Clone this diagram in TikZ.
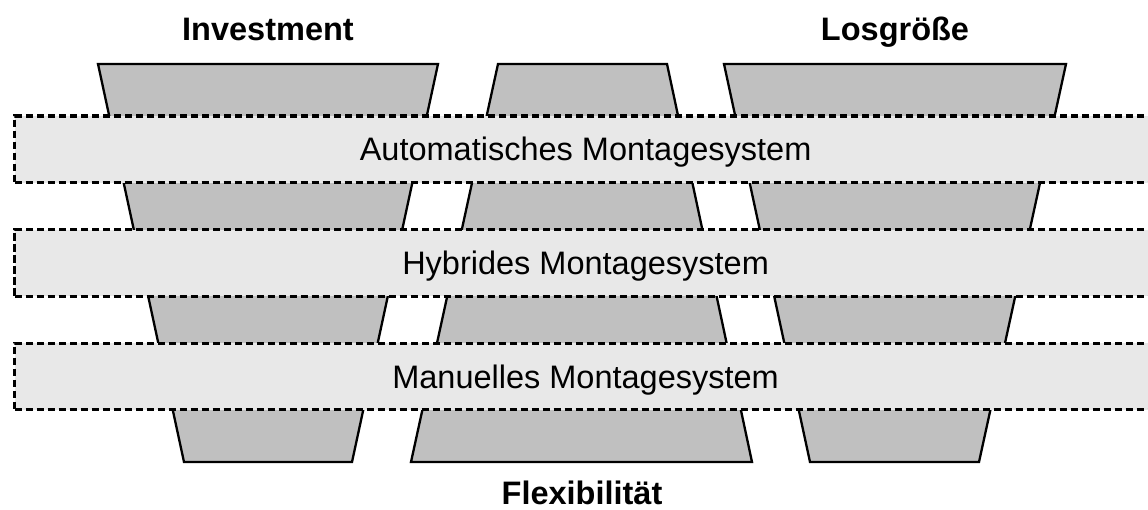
\documentclass[tikz,border=0pt]{standalone}
\usepackage{fontspec}
\setmainfont{Liberation Sans}
\definecolor{bandfill}{HTML}{E8E8E8}
\definecolor{funnelfill}{HTML}{C0C0C0}
\tikzset{
  funnel/.style={draw=black, fill=funnelfill, line width=2.3pt, line join=miter},
  band/.style={draw=black, fill=bandfill, line width=3.2pt,
    dash pattern=on 7.5pt off 3.5pt, rectangle, anchor=west,
    minimum width=1142pt, minimum height=66.5pt, inner sep=0pt,
    text height=23.3pt, text depth=0pt,
    font=\fontsize{32.5}{39}\selectfont},
  heading/.style={anchor=base, inner sep=0pt,
    font=\fontsize{32.5}{39}\selectfont\bfseries}
}
\begin{document}
\begin{tikzpicture}[x=1pt, y=-1pt]
  \clip (0,0) rectangle (1148,510);
  \fill[white] (0,0) rectangle (1148,510);

  % three funnels behind the bands
  \draw[funnel] (98,64) -- (438,64) -- (352,462) -- (184,462) -- cycle;
  \draw[funnel] (498,64) -- (667,64) -- (752,462) -- (411,462) -- cycle;
  \draw[funnel] (724,64) -- (1066,64) -- (979,462) -- (810,462) -- cycle;

  % system bands
  \node[band] (auto) at (13,149.3) {Automatisches Montagesystem};
  \node[band] (hybrid) at (13,263) {Hybrides Montagesystem};
  \node[band] (manual) at (13,376.5) {Manuelles Montagesystem};

  % headings
  \node[heading] (invest) at (268,41) {Investment};
  \node[heading] (lot) at (895,40.5) {Losgröße};
  \node[heading] (flex) at (582,504.5) {Flexibilität};
\end{tikzpicture}
\end{document}
